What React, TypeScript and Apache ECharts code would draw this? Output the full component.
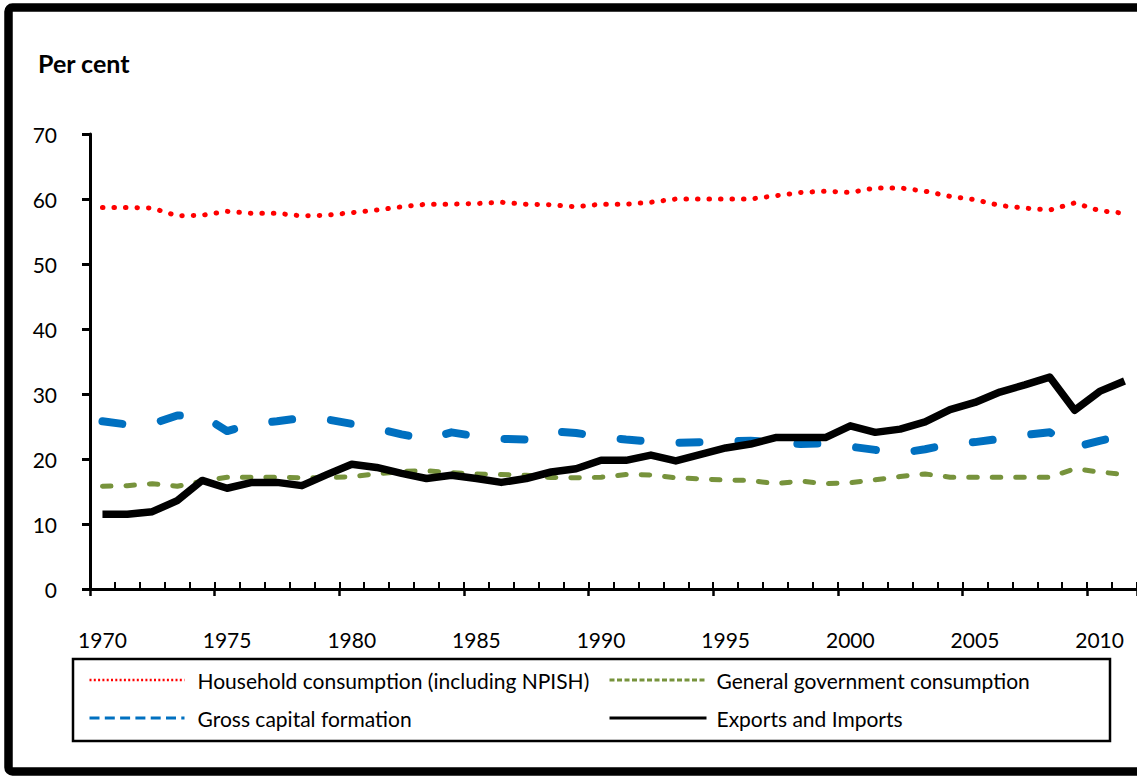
import React, { useEffect, useRef } from "react";
import * as echarts from "echarts";

const FONT = "Lato, 'Noto Sans', sans-serif";

const years = [
  "1970", "1971", "1972", "1973", "1974", "1975", "1976", "1977", "1978", "1979",
  "1980", "1981", "1982", "1983", "1984", "1985", "1986", "1987", "1988", "1989",
  "1990", "1991", "1992", "1993", "1994", "1995", "1996", "1997", "1998", "1999",
  "2000", "2001", "2002", "2003", "2004", "2005", "2006", "2007", "2008", "2009",
  "2010", "2011",
];

const household = [
  58.7, 58.7, 58.6, 57.4, 57.5, 58.1, 57.8, 57.8, 57.4, 57.5,
  57.9, 58.3, 58.8, 59.2, 59.2, 59.3, 59.5, 59.2, 59.1, 58.8,
  59.2, 59.2, 59.5, 60.0, 60.0, 60.0, 60.0, 60.5, 61.0, 61.2,
  61.0, 61.7, 61.7, 61.2, 60.4, 59.9, 59.0, 58.6, 58.3, 59.4,
  58.2, 57.8,
];

const government = [
  15.8, 15.9, 16.2, 15.8, 16.6, 17.2, 17.2, 17.2, 17.1, 17.1,
  17.3, 17.7, 18.1, 18.2, 17.9, 17.7, 17.6, 17.5, 17.15, 17.1,
  17.2, 17.6, 17.55, 17.1, 16.95, 16.75, 16.7, 16.2, 16.6, 16.2,
  16.35, 16.8, 17.3, 17.7, 17.2, 17.2, 17.2, 17.2, 17.2, 18.5,
  18.0, 17.6,
];

const capital = [
  25.8, 25.3, 25.4, 26.7, 26.7, 24.3, 25.4, 25.8, 26.3, 26.1,
  25.4, 24.7, 23.8, 23.0, 24.1, 23.5, 23.1, 23.0, 24.3, 24.0,
  23.4, 23.0, 22.7, 22.5, 22.6, 22.7, 22.8, 22.6, 22.3, 22.4,
  21.9, 21.4, 20.9, 21.5, 22.3, 22.6, 23.1, 23.7, 24.1, 21.8,
  22.8, 23.6,
];

const trade = [
  11.5, 11.5, 11.9, 13.6, 16.7, 15.5, 16.4, 16.4, 15.9, 17.6,
  19.2, 18.7, 17.8, 17.0, 17.5, 17.0, 16.4, 17.0, 18.0, 18.5,
  19.8, 19.8, 20.6, 19.7, 20.7, 21.7, 22.3, 23.3, 23.3, 23.3,
  25.1, 24.1, 24.6, 25.7, 27.6, 28.7, 30.3, 31.4, 32.6, 27.5,
  30.4, 32.0,
];

const N_HOUSE = "Household consumption (including NPISH)";
const N_GOV = "General government consumption";
const N_CAP = "Gross capital formation";
const N_TRADE = "Exports and Imports";

const RED = "#ff0000";
const GREEN = "#77933c";
const BLUE = "#0070c0";
const BLACK = "#000000";

const HIDDEN_SYMBOL = { color: "rgba(0,0,0,0)", borderWidth: 0, opacity: 0 };

export default function App() {
  const ref = useRef<HTMLDivElement>(null);

  useEffect(() => {
    if (!ref.current) return;
    const chart = echarts.init(ref.current, null, { renderer: "svg" });
    const option: any = {
      animation: false,
      backgroundColor: "#ffffff",
      textStyle: { fontFamily: FONT },
      grid: { left: 90, top: 134, width: 1050, height: 455, containLabel: false },
      xAxis: [
        {
          type: "category",
          data: years,
          boundaryGap: true,
          position: "bottom",
          axisLine: { show: true, lineStyle: { color: BLACK, width: 3 } },
          axisTick: { show: true, inside: true, interval: 0, length: 7, lineStyle: { color: BLACK, width: 2 } },
          axisLabel: { interval: 4, margin: 40, fontSize: 21, color: BLACK, fontFamily: FONT },
          splitLine: { show: false },
        },
        {
          type: "category",
          data: years,
          boundaryGap: true,
          position: "bottom",
          gridIndex: 0,
          axisLine: { show: false },
          axisTick: { show: true, inside: false, interval: 4, length: 7, lineStyle: { color: BLACK, width: 2.5 } },
          axisLabel: { show: false },
          splitLine: { show: false },
        },
      ],
      yAxis: [
        {
          type: "value",
          min: 0,
          max: 70,
          interval: 10,
          position: "left",
          axisLine: { show: true, lineStyle: { color: BLACK, width: 3 } },
          axisTick: { show: true, length: 8, lineStyle: { color: BLACK, width: 3 } },
          axisLabel: { show: false },
          splitLine: { show: false },
        },
        {
          type: "value",
          min: 0,
          max: 70,
          interval: 10,
          position: "left",
          offset: 28,
          axisLine: { show: false },
          axisTick: { show: false },
          axisLabel: { margin: 5, fontSize: 21, color: BLACK, fontFamily: FONT },
          splitLine: { show: false },
        },
      ],
      legend: [
        {
          orient: "vertical",
          left: 88,
          top: 668,
          itemWidth: 95,
          itemHeight: 24,
          itemGap: 14,
          padding: 0,
          itemStyle: HIDDEN_SYMBOL,
          textStyle: { fontSize: 21, color: BLACK, fontFamily: FONT, lineHeight: 24, padding: [0, 0, 0, 8] },
          data: [
            { name: N_HOUSE, itemStyle: HIDDEN_SYMBOL, lineStyle: { width: 2.5, type: [2, 2.3], cap: "butt", color: RED } },
            { name: N_CAP, itemStyle: HIDDEN_SYMBOL, lineStyle: { width: 3, type: [10, 5.3], cap: "butt", color: BLUE } },
          ],
        },
        {
          orient: "vertical",
          left: 608,
          top: 668,
          itemWidth: 97,
          itemHeight: 24,
          itemGap: 14,
          padding: 0,
          itemStyle: HIDDEN_SYMBOL,
          textStyle: { fontSize: 21, color: BLACK, fontFamily: FONT, lineHeight: 24, padding: [0, 0, 0, 5] },
          data: [
            { name: N_GOV, itemStyle: HIDDEN_SYMBOL, lineStyle: { width: 3, type: [5, 2.5], cap: "butt", color: GREEN } },
            { name: N_TRADE, itemStyle: HIDDEN_SYMBOL, lineStyle: { width: 3, type: "solid", color: BLACK } },
          ],
        },
      ],
      series: [
        {
          name: N_HOUSE,
          type: "line",
          data: household,
          color: RED,
          symbol: "none",
          yAxisIndex: 0,
          lineStyle: { color: RED, width: 5, type: [0.5, 11], cap: "round", join: "round" },
        },
        {
          name: N_GOV,
          type: "line",
          data: government,
          color: GREEN,
          symbol: "none",
          yAxisIndex: 0,
          lineStyle: { color: GREEN, width: 5, type: [8.5, 15], cap: "round", join: "round" },
        },
        {
          name: N_CAP,
          type: "line",
          data: capital,
          color: BLUE,
          symbol: "none",
          yAxisIndex: 0,
          lineStyle: { color: BLUE, width: 8, type: [20, 39], cap: "round", join: "round" },
        },
        {
          name: N_TRADE,
          type: "line",
          data: trade,
          color: BLACK,
          symbol: "none",
          yAxisIndex: 0,
          lineStyle: { color: BLACK, width: 7.5, type: "solid", join: "round" },
        },
      ],
      graphic: [
        {
          type: "rect",
          silent: true,
          shape: { x: 8.5, y: 7.5, width: 1200, height: 764, r: 4 },
          style: { fill: "none", stroke: BLACK, lineWidth: 8.5 },
        },
        {
          type: "rect",
          silent: true,
          shape: { x: 73, y: 659, width: 1037, height: 82 },
          style: { fill: "none", stroke: BLACK, lineWidth: 2.5 },
        },
        {
          type: "text",
          silent: true,
          x: 38,
          y: 63,
          style: {
            text: "Per cent",
            fontSize: 25,
            fontWeight: "bold",
            fontFamily: FONT,
            fill: BLACK,
            verticalAlign: "middle",
          },
        },
      ],
    };
    chart.setOption(option);
    return () => chart.dispose();
  }, []);

  return (
    <div
      style={{
        position: "fixed",
        left: 0,
        top: 0,
        width: 1137,
        height: 776,
        overflow: "hidden",
        background: "#ffffff",
      }}
    >
      <div ref={ref} style={{ width: 1137, height: 776 }} />
    </div>
  );
}
